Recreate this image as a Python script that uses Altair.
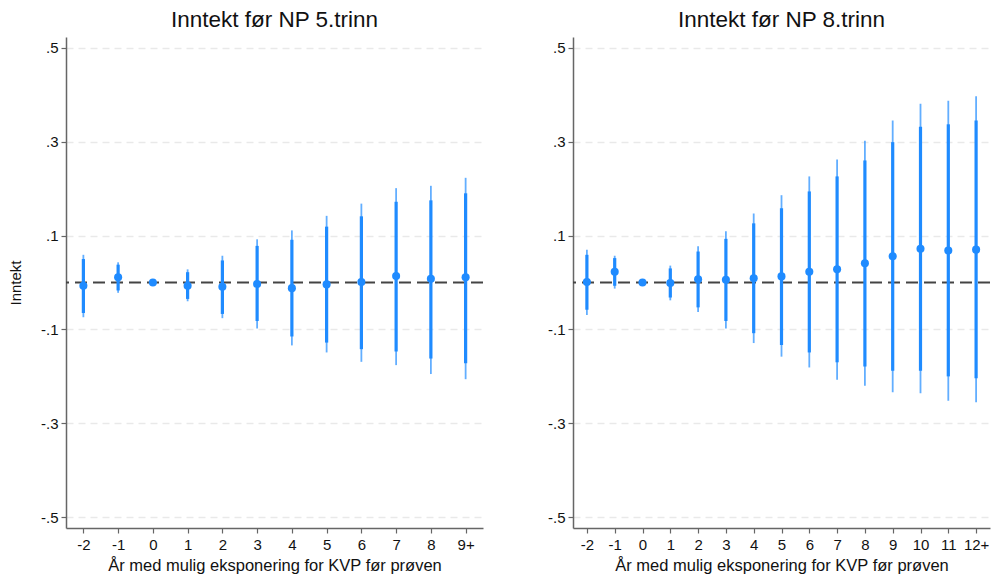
import altair as alt
import pandas as pd

# ---- data: 5.trinn ----
labels5 = ["-2", "-1", "0", "1", "2", "3", "4", "5", "6", "7", "8", "9+"]
est5 = [-0.007, 0.011, 0.0, -0.007, -0.009, -0.003, -0.012, -0.004, 0.001, 0.014, 0.008, 0.011]
hi95_5 = [0.059, 0.043, None, 0.028, 0.057, 0.092, 0.111, 0.142, 0.168, 0.201, 0.206, 0.223]
lo95_5 = [-0.074, -0.022, None, -0.040, -0.076, -0.098, -0.134, -0.149, -0.169, -0.176, -0.195, -0.206]
hi90_5 = [0.050, 0.038, None, 0.022, 0.047, 0.078, 0.091, 0.119, 0.141, 0.172, 0.175, 0.190]
lo90_5 = [-0.065, -0.017, None, -0.035, -0.067, -0.082, -0.115, -0.128, -0.142, -0.147, -0.162, -0.172]

# ---- data: 8.trinn ----
labels8 = ["-2", "-1", "0", "1", "2", "3", "4", "5", "6", "7", "8", "9", "10", "11", "12+"]
est8 = [0.001, 0.023, 0.0, -0.001, 0.007, 0.006, 0.009, 0.013, 0.023, 0.028, 0.041, 0.056, 0.072, 0.068, 0.070]
hi95_8 = [0.070, 0.057, None, 0.036, 0.077, 0.109, 0.147, 0.186, 0.226, 0.262, 0.302, 0.345, 0.381, 0.387, 0.397]
hi90_8 = [0.059, 0.052, None, 0.030, 0.066, 0.093, 0.126, 0.158, 0.194, 0.226, 0.260, 0.299, 0.332, 0.337, 0.345]
lo90_8 = [-0.058, -0.007, None, -0.032, -0.053, -0.082, -0.108, -0.133, -0.149, -0.170, -0.179, -0.188, -0.188, -0.200, -0.204]
lo95_8 = [-0.069, -0.013, None, -0.038, -0.063, -0.098, -0.129, -0.158, -0.181, -0.207, -0.220, -0.234, -0.236, -0.252, -0.255]

yticks = [-0.5, -0.3, -0.1, 0.1, 0.3, 0.5]

BLUE = "#1f8bff"
FONT = "Liberation Sans"
XTITLE = "År med mulig eksponering for KVP før prøven"
YDOM = [-0.523, 0.523]
YLABEL = "(datum.value < 0 ? '-' : '') + replace(format(abs(datum.value), '.1f'), '0.', '.')"


def panel(labels, est, lo95, hi95, lo90, hi90, title, ytitle, width):
    df = pd.DataFrame({"lab": labels, "est": est, "lo95": lo95, "hi95": hi95,
                       "lo90": lo90, "hi90": hi90})
    yscale = alt.Scale(domain=YDOM, nice=False, zero=False)
    x = alt.X("lab:N", sort=labels, scale=alt.Scale(type="point", padding=0.5),
              axis=alt.Axis(title=XTITLE, labelAngle=0, grid=False, titlePadding=5,
                            labelPadding=4, titleFontSize=16.5))
    yaxis = alt.Axis(values=yticks, title=ytitle if ytitle else None,
                     labelExpr=YLABEL,
                     grid=True, gridDash=[7, 5], gridColor="#e9e9e9", gridWidth=1.5,
                     titlePadding=17, labelPadding=3)
    base = alt.Chart(df)
    zero = alt.Chart(pd.DataFrame({"z": [0.0]})).mark_rule(
        color="#444444", strokeWidth=2, strokeDash=[12, 6]
    ).encode(y=alt.Y("z:Q", scale=yscale, axis=yaxis))
    thin = base.mark_rule(color=BLUE, strokeWidth=1.8, opacity=0.7).encode(
        x=x, y=alt.Y("lo95:Q", scale=yscale), y2="hi95:Q")
    thick = base.mark_rule(color=BLUE, strokeWidth=3.2).encode(
        x=x, y=alt.Y("lo90:Q", scale=yscale), y2="hi90:Q")
    pts = base.mark_circle(color=BLUE, size=65, opacity=1).encode(
        x=x, y=alt.Y("est:Q", scale=yscale))
    return alt.layer(zero, thin, thick, pts).properties(
        width=width, height=491,
        title=alt.TitleParams(title, fontSize=22.5, font=FONT, fontWeight="normal",
                              anchor="middle", color="#111111", offset=6))


left = panel(labels5, est5, lo95_5, hi95_5, lo90_5, hi90_5, "Inntekt før NP 5.trinn", "Inntekt", 417)
right = panel(labels8, est8, lo95_8, hi95_8, lo90_8, hi90_8, "Inntekt før NP 8.trinn", None, 417)

chart = alt.hconcat(left, right, spacing=63).properties(padding=0).configure_view(
    stroke=None
).configure_axis(
    labelFont=FONT, titleFont=FONT, labelFontSize=15, titleFontSize=15,
    labelColor="#111111", titleColor="#111111", titleFontWeight="normal",
    domainColor="#666666", tickColor="#666666", tickSize=5, domainWidth=1.5,
    tickWidth=1.2
)

chart.save("out.html", embed_options={"renderer": "svg", "actions": False})
